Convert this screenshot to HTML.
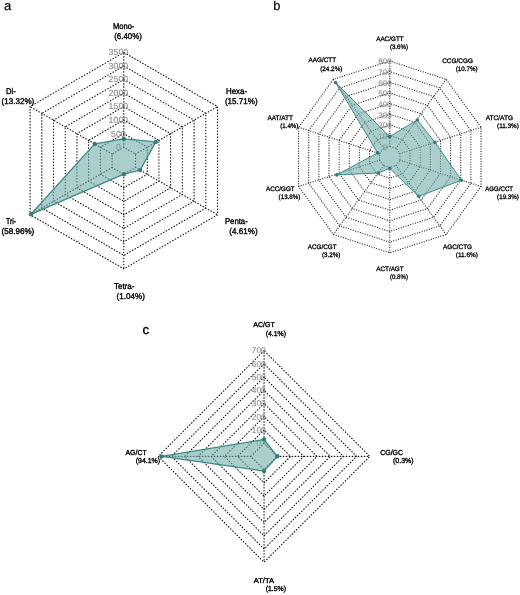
<!DOCTYPE html>
<html><head><meta charset="utf-8"><title>Radar charts</title>
<style>
html,body{margin:0;padding:0;background:#fff;}
svg{display:block;font-family:"Liberation Sans",Arial,sans-serif;text-rendering:geometricPrecision;}
.g{fill:none;stroke:#141414;stroke-width:1.15;stroke-dasharray:0.5 2.5;stroke-linecap:round;}
.g.b{stroke:#262626;stroke-width:1.25;stroke-dasharray:0.01 2.49;}
.t{fill:#8e8e8e;stroke:#8e8e8e;stroke-width:0.12;text-anchor:middle;}
.l{fill:#000;stroke:#000;stroke-width:0.36;}
.l.b{stroke-width:0.3;}
.p{fill:rgba(112,173,170,0.6);stroke:#3f8a84;stroke-width:1.3;stroke-linejoin:round;}
.p.b{stroke-width:1.0;}
.d{fill:#2f7f79;}
.h{fill:#000;stroke:#000;stroke-width:0.2;}
</style></head><body>
<svg width="520" height="595" viewBox="0 0 520 595">
<rect width="520" height="595" fill="#fff"/>
<text class="h" font-size="13" x="4" y="10">a</text>
<text class="h" font-size="12.8" x="273.3" y="10.4">b</text>
<text class="h" font-size="13" x="142.4" y="334" style="stroke-width:0.4">c</text>
<g>
<polygon class="g" points="123.80,147.17 112.09,153.94 112.09,167.46 123.80,174.22 135.51,167.46 135.51,153.94"/>
<polygon class="g" points="123.80,133.65 100.37,147.17 100.37,174.22 123.80,187.75 147.23,174.22 147.23,147.17"/>
<polygon class="g" points="123.80,120.12 88.66,140.41 88.66,180.99 123.80,201.27 158.94,180.99 158.94,140.41"/>
<polygon class="g" points="123.80,106.60 76.95,133.65 76.95,187.75 123.80,214.80 170.65,187.75 170.65,133.65"/>
<polygon class="g" points="123.80,93.07 65.24,126.89 65.24,194.51 123.80,228.32 182.36,194.51 182.36,126.89"/>
<polygon class="g" points="123.80,79.55 53.52,120.12 53.52,201.27 123.80,241.85 194.08,201.28 194.08,120.12"/>
<polygon class="g" points="123.80,66.02 41.81,113.36 41.81,208.04 123.80,255.38 205.79,208.04 205.79,113.36"/>
<polygon class="g" points="123.80,52.50 30.10,106.60 30.10,214.80 123.80,268.90 217.50,214.80 217.50,106.60"/>
<line class="g" x1="123.80" y1="147.17" x2="123.80" y2="52.50"/>
<line class="g" x1="112.09" y1="153.94" x2="30.10" y2="106.60"/>
<line class="g" x1="112.09" y1="167.46" x2="30.10" y2="214.80"/>
<line class="g" x1="123.80" y1="174.22" x2="123.80" y2="268.90"/>
<line class="g" x1="135.51" y1="167.46" x2="217.50" y2="214.80"/>
<line class="g" x1="135.51" y1="153.94" x2="217.50" y2="106.60"/>
<text class="t" font-size="8.8" x="118.39" y="150.04">0</text>
<text class="t" font-size="8.8" x="118.39" y="136.52">500</text>
<text class="t" font-size="8.8" x="118.39" y="122.99">1000</text>
<text class="t" font-size="8.8" x="118.39" y="109.47">1500</text>
<text class="t" font-size="8.8" x="118.39" y="95.94">2000</text>
<text class="t" font-size="8.8" x="118.39" y="82.42">2500</text>
<text class="t" font-size="8.8" x="118.39" y="68.89">3000</text>
<text class="t" font-size="8.8" x="118.39" y="55.37">3500</text>
<polygon class="p" points="123.80,138.85 94.70,143.90 30.96,214.30 123.80,174.20 140.10,170.10 155.80,141.90"/>
<circle class="d" cx="123.80" cy="138.85" r="2.2"/>
<circle class="d" cx="94.70" cy="143.90" r="2.2"/>
<circle class="d" cx="30.96" cy="214.30" r="2.2"/>
<circle class="d" cx="123.80" cy="174.20" r="2.2"/>
<circle class="d" cx="140.10" cy="170.10" r="2.2"/>
<circle class="d" cx="155.80" cy="141.90" r="2.2"/>
<text class="l" font-size="8.3" x="112.90" y="28.60" textLength="21.50" lengthAdjust="spacingAndGlyphs">Mono-</text>
<text class="l" font-size="8.3" x="114.20" y="38.90" textLength="27.60" lengthAdjust="spacingAndGlyphs">(6.40%)</text>
<text class="l" font-size="8.3" x="6.06" y="93.50" textLength="9.84" lengthAdjust="spacingAndGlyphs">Di-</text>
<text class="l" font-size="8.3" x="1.60" y="104.00" textLength="32.70" lengthAdjust="spacingAndGlyphs">(13.32%)</text>
<text class="l" font-size="8.3" x="6.06" y="223.70" textLength="10.09" lengthAdjust="spacingAndGlyphs">Tri-</text>
<text class="l" font-size="8.3" x="1.60" y="234.10" textLength="32.70" lengthAdjust="spacingAndGlyphs">(58.96%)</text>
<text class="l" font-size="8.3" x="113.96" y="289.00" textLength="20.44" lengthAdjust="spacingAndGlyphs">Tetra-</text>
<text class="l" font-size="8.3" x="116.60" y="299.40" textLength="28.30" lengthAdjust="spacingAndGlyphs">(1.04%)</text>
<text class="l" font-size="8.3" x="224.90" y="223.70" textLength="22.90" lengthAdjust="spacingAndGlyphs">Penta-</text>
<text class="l" font-size="8.3" x="229.30" y="233.60" textLength="28.30" lengthAdjust="spacingAndGlyphs">(4.61%)</text>
<text class="l" font-size="8.3" x="226.00" y="93.80" textLength="21.10" lengthAdjust="spacingAndGlyphs">Hexa-</text>
<text class="l" font-size="8.3" x="224.90" y="103.60" textLength="32.70" lengthAdjust="spacingAndGlyphs">(15.71%)</text>
</g>
<g>
<polygon class="g b" points="389.80,146.24 383.54,148.28 379.67,153.61 379.67,160.19 383.54,165.52 389.80,167.56 396.06,165.52 399.93,160.19 399.93,153.61 396.06,148.28"/>
<polygon class="g b" points="389.80,135.59 377.27,139.66 369.53,150.31 369.53,163.49 377.27,174.14 389.80,178.21 402.33,174.14 410.07,163.49 410.07,150.31 402.33,139.66"/>
<polygon class="g b" points="389.80,124.93 371.01,131.04 359.40,147.02 359.40,166.78 371.01,182.76 389.80,188.87 408.59,182.76 420.20,166.78 420.20,147.02 408.59,131.04"/>
<polygon class="g b" points="389.80,114.28 364.75,122.42 349.26,143.73 349.26,170.07 364.75,191.38 389.80,199.52 414.85,191.38 430.34,170.07 430.34,143.73 414.85,122.42"/>
<polygon class="g b" points="389.80,103.62 358.48,113.80 339.13,140.44 339.13,173.36 358.48,200.00 389.80,210.18 421.12,200.00 440.47,173.36 440.47,140.44 421.12,113.80"/>
<polygon class="g b" points="389.80,92.97 352.22,105.18 329.00,137.14 329.00,176.66 352.22,208.62 389.80,220.83 427.38,208.62 450.60,176.66 450.60,137.14 427.38,105.18"/>
<polygon class="g b" points="389.80,82.31 345.96,96.56 318.86,133.85 318.86,179.95 345.96,217.24 389.80,231.49 433.64,217.24 460.74,179.95 460.74,133.85 433.64,96.56"/>
<polygon class="g b" points="389.80,71.66 339.69,87.94 308.73,130.56 308.73,183.24 339.69,225.86 389.80,242.14 439.91,225.86 470.87,183.24 470.87,130.56 439.91,87.94"/>
<polygon class="g b" points="389.80,61.00 333.43,79.32 298.59,127.27 298.59,186.53 333.43,234.48 389.80,252.80 446.17,234.48 481.01,186.53 481.01,127.27 446.17,79.32"/>
<line class="g b" x1="389.80" y1="146.24" x2="389.80" y2="61.00"/>
<line class="g b" x1="383.54" y1="148.28" x2="333.43" y2="79.32"/>
<line class="g b" x1="379.67" y1="153.61" x2="298.59" y2="127.27"/>
<line class="g b" x1="379.67" y1="160.19" x2="298.59" y2="186.53"/>
<line class="g b" x1="383.54" y1="165.52" x2="333.43" y2="234.48"/>
<line class="g b" x1="389.80" y1="167.56" x2="389.80" y2="252.80"/>
<line class="g b" x1="396.06" y1="165.52" x2="446.17" y2="234.48"/>
<line class="g b" x1="399.93" y1="160.19" x2="481.01" y2="186.53"/>
<line class="g b" x1="399.93" y1="153.61" x2="481.01" y2="127.27"/>
<line class="g b" x1="396.06" y1="148.28" x2="446.17" y2="79.32"/>
<text class="t" font-size="8.0" x="385.00" y="149.72">0</text>
<text class="t" font-size="8.0" x="385.00" y="139.07">100</text>
<text class="t" font-size="8.0" x="385.00" y="128.41">200</text>
<text class="t" font-size="8.0" x="385.00" y="117.76">300</text>
<text class="t" font-size="8.0" x="385.00" y="107.10">400</text>
<text class="t" font-size="8.0" x="385.00" y="96.45">500</text>
<text class="t" font-size="8.0" x="385.00" y="85.79">600</text>
<text class="t" font-size="8.0" x="385.00" y="75.14">700</text>
<text class="t" font-size="8.0" x="385.00" y="64.48">800</text>
<polygon class="p b" points="389.70,136.60 335.70,82.70 377.70,152.90 336.80,174.90 378.40,173.00 389.70,168.30 418.70,196.30 461.40,180.20 435.00,142.40 417.30,120.00"/>
<circle class="d" cx="389.70" cy="136.60" r="1.8"/>
<circle class="d" cx="335.70" cy="82.70" r="1.8"/>
<circle class="d" cx="377.70" cy="152.90" r="1.8"/>
<circle class="d" cx="336.80" cy="174.90" r="1.8"/>
<circle class="d" cx="378.40" cy="173.00" r="1.8"/>
<circle class="d" cx="389.70" cy="168.30" r="1.8"/>
<circle class="d" cx="418.70" cy="196.30" r="1.8"/>
<circle class="d" cx="461.40" cy="180.20" r="1.8"/>
<circle class="d" cx="435.00" cy="142.40" r="1.8"/>
<circle class="d" cx="417.30" cy="120.00" r="1.8"/>
<text class="l b" font-size="6.5" x="376.15" y="40.75" textLength="27.55" lengthAdjust="spacingAndGlyphs">AAC/GTT</text>
<text class="l b" font-size="6.5" x="389.90" y="49.20" textLength="18.10" lengthAdjust="spacingAndGlyphs">(3.6%)</text>
<text class="l b" font-size="6.5" x="308.50" y="62.40" textLength="27.60" lengthAdjust="spacingAndGlyphs">AAG/CTT</text>
<text class="l b" font-size="6.5" x="320.20" y="70.90" textLength="22.20" lengthAdjust="spacingAndGlyphs">(24.2%)</text>
<text class="l b" font-size="6.5" x="267.40" y="119.90" textLength="25.60" lengthAdjust="spacingAndGlyphs">AAT/ATT</text>
<text class="l b" font-size="6.5" x="280.20" y="128.00" textLength="18.20" lengthAdjust="spacingAndGlyphs">(1.4%)</text>
<text class="l b" font-size="6.5" x="266.00" y="191.00" textLength="28.70" lengthAdjust="spacingAndGlyphs">ACC/GGT</text>
<text class="l b" font-size="6.5" x="278.60" y="199.30" textLength="21.80" lengthAdjust="spacingAndGlyphs">(13.8%)</text>
<text class="l b" font-size="6.5" x="307.80" y="248.80" textLength="28.80" lengthAdjust="spacingAndGlyphs">ACG/CGT</text>
<text class="l b" font-size="6.5" x="321.90" y="257.00" textLength="18.50" lengthAdjust="spacingAndGlyphs">(3.2%)</text>
<text class="l b" font-size="6.5" x="376.20" y="270.60" textLength="27.50" lengthAdjust="spacingAndGlyphs">ACT/AGT</text>
<text class="l b" font-size="6.5" x="389.90" y="279.00" textLength="18.10" lengthAdjust="spacingAndGlyphs">(0.8%)</text>
<text class="l b" font-size="6.5" x="443.00" y="248.60" textLength="29.00" lengthAdjust="spacingAndGlyphs">AGC/CTG</text>
<text class="l b" font-size="6.5" x="455.80" y="257.00" textLength="22.00" lengthAdjust="spacingAndGlyphs">(11.6%)</text>
<text class="l b" font-size="6.5" x="485.30" y="191.20" textLength="27.70" lengthAdjust="spacingAndGlyphs">AGG/CCT</text>
<text class="l b" font-size="6.5" x="497.10" y="199.30" textLength="21.80" lengthAdjust="spacingAndGlyphs">(19.3%)</text>
<text class="l b" font-size="6.5" x="485.70" y="119.90" textLength="27.30" lengthAdjust="spacingAndGlyphs">ATC/ATG</text>
<text class="l b" font-size="6.5" x="497.10" y="128.00" textLength="21.80" lengthAdjust="spacingAndGlyphs">(11.3%)</text>
<text class="l b" font-size="6.5" x="442.20" y="62.50" textLength="30.70" lengthAdjust="spacingAndGlyphs">CCG/CGG</text>
<text class="l b" font-size="6.5" x="455.70" y="70.60" textLength="21.90" lengthAdjust="spacingAndGlyphs">(10.7%)</text>
</g>
<g>
<polygon class="g" points="264.05,443.17 250.83,456.40 264.05,469.62 277.28,456.40"/>
<polygon class="g" points="264.05,429.95 237.60,456.40 264.05,482.85 290.50,456.40"/>
<polygon class="g" points="264.05,416.72 224.38,456.40 264.05,496.07 303.73,456.40"/>
<polygon class="g" points="264.05,403.50 211.15,456.40 264.05,509.30 316.95,456.40"/>
<polygon class="g" points="264.05,390.27 197.93,456.40 264.05,522.52 330.18,456.40"/>
<polygon class="g" points="264.05,377.05 184.70,456.40 264.05,535.75 343.40,456.40"/>
<polygon class="g" points="264.05,363.82 171.48,456.40 264.05,548.98 356.62,456.40"/>
<polygon class="g" points="264.05,350.60 158.25,456.40 264.05,562.20 369.85,456.40"/>
<line class="g" x1="264.05" y1="443.17" x2="264.05" y2="350.60"/>
<line class="g" x1="250.83" y1="456.40" x2="158.25" y2="456.40"/>
<line class="g" x1="264.05" y1="469.62" x2="264.05" y2="562.20"/>
<line class="g" x1="277.28" y1="456.40" x2="369.85" y2="456.40"/>
<text class="t" font-size="8.4" x="258.76" y="446.00">0</text>
<text class="t" font-size="8.4" x="258.76" y="432.77">100</text>
<text class="t" font-size="8.4" x="258.76" y="419.55">200</text>
<text class="t" font-size="8.4" x="258.76" y="406.32">300</text>
<text class="t" font-size="8.4" x="258.76" y="393.10">400</text>
<text class="t" font-size="8.4" x="258.76" y="379.87">500</text>
<text class="t" font-size="8.4" x="258.76" y="366.65">600</text>
<text class="t" font-size="8.4" x="258.76" y="353.42">700</text>
<polygon class="p" points="264.05,439.50 161.60,456.40 264.05,471.10 277.40,456.30"/>
<circle class="d" cx="264.05" cy="439.50" r="2.2"/>
<circle class="d" cx="161.60" cy="456.40" r="2.2"/>
<circle class="d" cx="264.05" cy="471.10" r="2.2"/>
<circle class="d" cx="277.40" cy="456.30" r="2.2"/>
<text class="l" font-size="7.2" x="253.20" y="327.10" textLength="21.50" lengthAdjust="spacingAndGlyphs">AC/GT</text>
<text class="l" font-size="7.2" x="265.70" y="335.90" textLength="20.40" lengthAdjust="spacingAndGlyphs">(4.1%)</text>
<text class="l" font-size="7.2" x="125.50" y="454.90" textLength="21.10" lengthAdjust="spacingAndGlyphs">AG/CT</text>
<text class="l" font-size="7.2" x="135.80" y="463.40" textLength="24.30" lengthAdjust="spacingAndGlyphs">(94.1%)</text>
<text class="l" font-size="7.2" x="253.80" y="582.70" textLength="20.20" lengthAdjust="spacingAndGlyphs">AT/TA</text>
<text class="l" font-size="7.2" x="265.70" y="591.20" textLength="20.40" lengthAdjust="spacingAndGlyphs">(1.5%)</text>
<text class="l" font-size="7.2" x="380.20" y="454.90" textLength="22.90" lengthAdjust="spacingAndGlyphs">CG/GC</text>
<text class="l" font-size="7.2" x="393.00" y="463.40" textLength="20.60" lengthAdjust="spacingAndGlyphs">(0.3%)</text>
</g>
</svg>
</body></html>
